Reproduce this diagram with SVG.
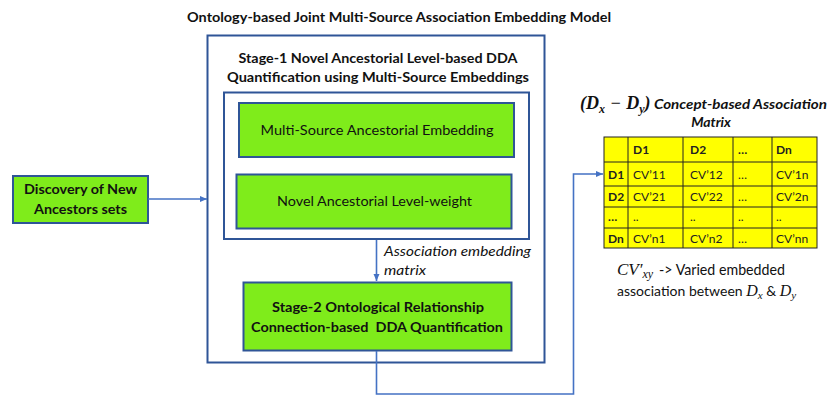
<svg xmlns="http://www.w3.org/2000/svg" width="827" height="396" viewBox="0 0 827 396">
  <style>
    .frame { fill: #ffffff; stroke: #2f5597; stroke-width: 2; }
    .green { fill: #7fec1b; stroke: #2f5597; stroke-width: 2; }
    .conn { fill: none; stroke: #4472c4; stroke-width: 1.6; }
    .t { font-family: Lato, "Open Sans", "Liberation Sans", sans-serif; fill: #111111; }
    .b { font-weight: bold; }
    .i { font-style: italic; }
    .cell { fill: #ffff00; stroke: #222222; stroke-width: 1; }
    .grid { stroke: #222222; stroke-width: 1; }
    .ct { font-family: Lato, "Open Sans", "Liberation Sans", sans-serif; font-size: 12px; fill: #222222; }
    .math { font-family: "Liberation Serif", "DejaVu Serif", serif; font-style: italic; fill: #111111; }
  </style>
  <defs>
    <marker id="arrow" markerWidth="8" markerHeight="8" refX="7" refY="4" orient="auto" markerUnits="userSpaceOnUse">
      <path d="M0,1 L7,4 L0,7 Z" fill="#4472c4"/>
    </marker>
  </defs>

  <rect width="827" height="396" fill="#ffffff"/>

  <!-- overall model title -->
  <text class="t b" x="399" y="22" font-size="14" text-anchor="middle" textLength="424" lengthAdjust="spacingAndGlyphs">Ontology-based Joint Multi-Source Association Embedding Model</text>

  <!-- outer model frame with stage-1 heading -->
  <g id="model">
    <rect class="frame" x="207.5" y="35.5" width="337" height="327"/>
    <text class="t b" x="378" y="63" font-size="14" text-anchor="middle" textLength="279" lengthAdjust="spacingAndGlyphs">Stage-1 Novel Ancestorial Level-based DDA</text>
    <text class="t b" x="378" y="82" font-size="14" text-anchor="middle" textLength="302" lengthAdjust="spacingAndGlyphs">Quantification using Multi-Source Embeddings</text>
  </g>

  <!-- stage-1 inner frame -->
  <g id="stage1">
    <rect class="frame" x="224" y="92.5" width="305" height="146.5"/>
  </g>

  <g id="multi-source">
    <rect class="green" x="239" y="103" width="275" height="54"/>
    <text class="t" x="377" y="135" font-size="14" text-anchor="middle" textLength="233" lengthAdjust="spacingAndGlyphs">Multi-Source Ancestorial Embedding</text>
  </g>

  <g id="level-weight">
    <rect class="green" x="236.5" y="174.5" width="275" height="54"/>
    <text class="t" x="374.5" y="206" font-size="14" text-anchor="middle" textLength="195" lengthAdjust="spacingAndGlyphs">Novel Ancestorial Level-weight</text>
  </g>

  <g id="stage2">
    <rect class="green" x="243.5" y="282.5" width="268" height="68"/>
    <text class="t b" x="378" y="312" font-size="14" text-anchor="middle" textLength="212" lengthAdjust="spacingAndGlyphs">Stage-2 Ontological Relationship</text>
    <text class="t b" x="377" y="332" font-size="14" text-anchor="middle" textLength="252" lengthAdjust="spacingAndGlyphs" xml:space="preserve">Connection-based  DDA Quantification</text>
  </g>

  <g id="discovery">
    <rect class="green" x="13" y="176" width="135" height="47"/>
    <text class="t b" x="80.5" y="194" font-size="14" text-anchor="middle" textLength="113" lengthAdjust="spacingAndGlyphs">Discovery of New</text>
    <text class="t b" x="80.5" y="214" font-size="14" text-anchor="middle" textLength="93" lengthAdjust="spacingAndGlyphs">Ancestors sets</text>
  </g>

  <!-- connectors -->
  <g id="connectors">
    <line class="conn" x1="148" y1="199" x2="207" y2="199" marker-end="url(#arrow)"/>
    <line class="conn" x1="376.5" y1="240" x2="376.5" y2="281" marker-end="url(#arrow)"/>
    <polyline class="conn" points="376.5,351 376.5,394 573.5,394 573.5,174 603,174" marker-end="url(#arrow)"/>
    <text class="t i" x="384" y="256" font-size="14" textLength="147" lengthAdjust="spacingAndGlyphs">Association embedding</text>
    <text class="t i" x="384" y="275" font-size="14" textLength="42" lengthAdjust="spacingAndGlyphs">matrix</text>
  </g>

  <!-- association matrix -->
  <g id="matrix">
    <text x="580" y="109" font-size="18" font-weight="bold">
      <tspan class="math" font-style="normal">(</tspan><tspan class="math">D</tspan><tspan class="math" font-size="12" dy="4">x</tspan><tspan class="math" font-style="normal" font-weight="normal" dy="-4"> − </tspan><tspan class="math">D</tspan><tspan class="math" font-size="12" dy="4">y</tspan><tspan class="math" font-style="normal" dy="-4">)</tspan>
    </text>
    <text class="t b i" x="654" y="109" font-size="14" textLength="173" lengthAdjust="spacingAndGlyphs">Concept-based Association</text>
    <text class="t b i" x="711" y="127" font-size="14" text-anchor="middle">Matrix</text>

    <!-- table cells -->
    <g>
      <rect class="cell" x="604" y="137" width="213" height="111"/>
      <line class="grid" x1="604" y1="162" x2="817" y2="162"/>
      <line class="grid" x1="604" y1="186" x2="817" y2="186"/>
      <line class="grid" x1="604" y1="207" x2="817" y2="207"/>
      <line class="grid" x1="604" y1="228" x2="817" y2="228"/>
      <line class="grid" x1="628" y1="137" x2="628" y2="248"/>
      <line class="grid" x1="683" y1="137" x2="683" y2="248"/>
      <line class="grid" x1="733" y1="137" x2="733" y2="248"/>
      <line class="grid" x1="772" y1="137" x2="772" y2="248"/>
    </g>
    <g class="ct">
      <text class="b" x="633" y="154">D1</text>
      <text class="b" x="690" y="154">D2</text>
      <text class="b" x="738" y="154">…</text>
      <text class="b" x="776" y="154">Dn</text>

      <text class="b" x="608" y="179">D1</text>
      <text x="633" y="179">CV’11</text>
      <text x="690" y="179">CV’12</text>
      <text x="738" y="179">…</text>
      <text x="776" y="179">CV’1n</text>

      <text class="b" x="608" y="201">D2</text>
      <text x="633" y="201">CV’21</text>
      <text x="690" y="201">CV’22</text>
      <text x="738" y="201">…</text>
      <text x="776" y="201">CV’2n</text>

      <text class="b" x="608" y="221">…</text>
      <text x="633" y="221">..</text>
      <text x="690" y="221">..</text>
      <text x="738" y="221">..</text>
      <text x="776" y="221">..</text>

      <text class="b" x="608" y="243">Dn</text>
      <text x="633" y="243">CV’n1</text>
      <text x="690" y="243">CV’n2</text>
      <text x="738" y="243">…</text>
      <text x="776" y="243">CV’nn</text>
    </g>

    <!-- legend -->
    <text x="617" y="275" font-size="17">
      <tspan class="math">CV</tspan><tspan class="math" font-style="normal">′</tspan><tspan class="math" font-size="12" dy="3">xy</tspan>
    </text>
    <text class="t" x="659" y="275" font-size="15" textLength="126" lengthAdjust="spacingAndGlyphs">-&gt; Varied embedded</text>
    <text class="t" x="617" y="296" font-size="14">association between <tspan class="math" font-size="16">D</tspan><tspan class="math" font-size="11" dy="3">x</tspan><tspan dy="-3"> &amp; </tspan><tspan class="math" font-size="16">D</tspan><tspan class="math" font-size="11" dy="3">y</tspan></text>
  </g>
</svg>
